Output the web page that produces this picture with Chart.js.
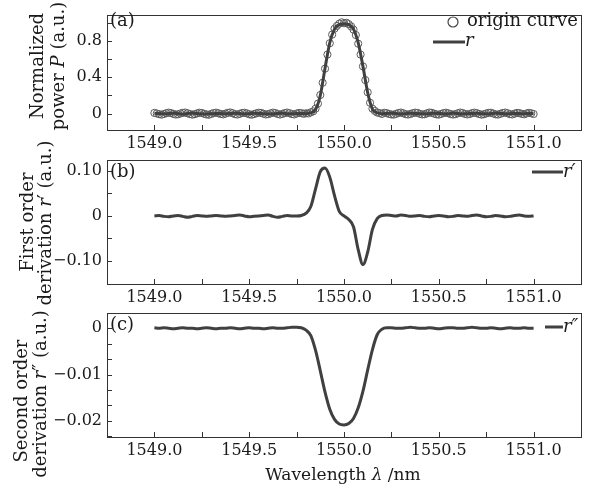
<!DOCTYPE html>
<html>
<head>
<meta charset="utf-8">
<script src="https://cdn.jsdelivr.net/npm/chart.js@4.4.1/dist/chart.umd.min.js"></script>
<style>
  html, body { margin: 0; padding: 0; background: #fff; }
  #wrap { position: relative; width: 596px; height: 487px; }
  #wrap canvas { position: absolute; left: 0; top: 0; }
</style>
</head>
<body>
<div id="wrap">
  <canvas id="cA" width="596" height="487"></canvas>
  <canvas id="cB" width="596" height="487"></canvas>
  <canvas id="cC" width="596" height="487"></canvas>
</div>
<script>
// wavelength (nm) of the curves
const wavelength = [
  1549.000, 1549.025, 1549.050, 1549.075, 1549.100, 1549.125, 1549.150, 1549.175, 1549.200, 1549.225,
  1549.250, 1549.275, 1549.300, 1549.325, 1549.350, 1549.375, 1549.400, 1549.425, 1549.450, 1549.475,
  1549.500, 1549.525, 1549.550, 1549.575, 1549.600, 1549.625, 1549.650, 1549.675, 1549.700, 1549.725,
  1549.750, 1549.775, 1549.800, 1549.825, 1549.850, 1549.875, 1549.900, 1549.925, 1549.950, 1549.975,
  1550.000, 1550.025, 1550.050, 1550.075, 1550.100, 1550.125, 1550.150, 1550.175, 1550.200, 1550.225,
  1550.250, 1550.275, 1550.300, 1550.325, 1550.350, 1550.375, 1550.400, 1550.425, 1550.450, 1550.475,
  1550.500, 1550.525, 1550.550, 1550.575, 1550.600, 1550.625, 1550.650, 1550.675, 1550.700, 1550.725,
  1550.750, 1550.775, 1550.800, 1550.825, 1550.850, 1550.875, 1550.900, 1550.925, 1550.950, 1550.975,
  1551.000
];

// wavelength (nm) of the measured points
const originWavelength = [
  1549.0000, 1549.0125, 1549.0250, 1549.0375, 1549.0500, 1549.0625, 1549.0750, 1549.0875,
  1549.1000, 1549.1125, 1549.1250, 1549.1375, 1549.1500, 1549.1625, 1549.1750, 1549.1875,
  1549.2000, 1549.2125, 1549.2250, 1549.2375, 1549.2500, 1549.2625, 1549.2750, 1549.2875,
  1549.3000, 1549.3125, 1549.3250, 1549.3375, 1549.3500, 1549.3625, 1549.3750, 1549.3875,
  1549.4000, 1549.4125, 1549.4250, 1549.4375, 1549.4500, 1549.4625, 1549.4750, 1549.4875,
  1549.5000, 1549.5125, 1549.5250, 1549.5375, 1549.5500, 1549.5625, 1549.5750, 1549.5875,
  1549.6000, 1549.6125, 1549.6250, 1549.6375, 1549.6500, 1549.6625, 1549.6750, 1549.6875,
  1549.7000, 1549.7125, 1549.7250, 1549.7375, 1549.7500, 1549.7625, 1549.7750, 1549.7875,
  1549.8000, 1549.8125, 1549.8250, 1549.8375, 1549.8500, 1549.8625, 1549.8750, 1549.8875,
  1549.9000, 1549.9125, 1549.9250, 1549.9375, 1549.9500, 1549.9625, 1549.9750, 1549.9875,
  1550.0000, 1550.0125, 1550.0250, 1550.0375, 1550.0500, 1550.0625, 1550.0750, 1550.0875,
  1550.1000, 1550.1125, 1550.1250, 1550.1375, 1550.1500, 1550.1625, 1550.1750, 1550.1875,
  1550.2000, 1550.2125, 1550.2250, 1550.2375, 1550.2500, 1550.2625, 1550.2750, 1550.2875,
  1550.3000, 1550.3125, 1550.3250, 1550.3375, 1550.3500, 1550.3625, 1550.3750, 1550.3875,
  1550.4000, 1550.4125, 1550.4250, 1550.4375, 1550.4500, 1550.4625, 1550.4750, 1550.4875,
  1550.5000, 1550.5125, 1550.5250, 1550.5375, 1550.5500, 1550.5625, 1550.5750, 1550.5875,
  1550.6000, 1550.6125, 1550.6250, 1550.6375, 1550.6500, 1550.6625, 1550.6750, 1550.6875,
  1550.7000, 1550.7125, 1550.7250, 1550.7375, 1550.7500, 1550.7625, 1550.7750, 1550.7875,
  1550.8000, 1550.8125, 1550.8250, 1550.8375, 1550.8500, 1550.8625, 1550.8750, 1550.8875,
  1550.9000, 1550.9125, 1550.9250, 1550.9375, 1550.9500, 1550.9625, 1550.9750, 1550.9875,
  1551.0000
];

// (a) measured points (origin curve)
const originCurve = [
  0.008, 0.002, -0.006, -0.011, -0.004, 0.005, 0.011, 0.006, -0.003, -0.010,
  -0.007, 0.002, 0.009, 0.012, 0.004, -0.005, -0.011, -0.006, 0.003, 0.010,
  0.007, -0.002, -0.009, -0.012, -0.003, 0.006, 0.011, 0.004, -0.004, -0.008,
  0.000, 0.009, 0.013, 0.005, -0.006, -0.010, -0.002, 0.007, 0.010, 0.003,
  -0.007, -0.012, -0.005, 0.004, 0.010, 0.008, -0.001, -0.009, -0.006, 0.003,
  0.011, 0.007, -0.004, -0.010, -0.003, 0.006, 0.012, 0.005, -0.005, -0.009,
  0.001, 0.008, 0.006, -0.002,
  0.004, 0.002, 0.015, 0.025, 0.055, 0.110, 0.205, 0.340, 0.495, 0.650,
  0.775, 0.870, 0.935, 0.965, 0.990, 1.005, 0.995, 1.000, 0.985, 0.960,
  0.925, 0.865, 0.770, 0.650, 0.520, 0.370, 0.235, 0.120, 0.055, 0.030,
  0.012, 0.006, -0.003,
  0.010, 0.006, -0.003, -0.009, -0.011, -0.002, 0.007, 0.012, 0.004, -0.006,
  -0.010, -0.004, 0.005, 0.011, 0.008, -0.002, -0.009, -0.007, 0.003, 0.012,
  0.009, 0.000, -0.008, -0.011, -0.003, 0.006, 0.010, 0.004, -0.005, -0.010,
  -0.006, 0.004, 0.012, 0.007, -0.003, -0.009, -0.004, 0.005, 0.011, 0.006,
  -0.004, -0.011, -0.007, 0.002, 0.009, 0.010, 0.001, -0.008, -0.010, -0.002,
  0.007, 0.012, 0.005, -0.006, -0.009, 0.000, 0.008, 0.006, -0.003, -0.007,
  0.002, 0.009, 0.004, -0.004
];

// (a) fitted r
const rCurve = [
  0.003, 0.001, -0.002, 0.002, 0.004, 0.000, -0.003, 0.001, 0.003, 0.002,
  -0.002, -0.004, 0.000, 0.002, 0.001, -0.001, 0.002, 0.004, 0.001, -0.002,
  -0.001, 0.003, 0.002, -0.001, -0.003, 0.000, 0.002, 0.003, 0.000, -0.002,
  0.001, 0.002,
  0.000, 0.010, 0.045, 0.200, 0.500, 0.780, 0.930, 0.980, 0.990, 0.980,
  0.930, 0.780, 0.520, 0.230, 0.050, 0.010, 0.000,
  0.002, 0.003, 0.001, -0.002, 0.000, 0.003, 0.002, -0.001, -0.002, 0.001,
  0.004, 0.002, -0.001, 0.000, 0.003, 0.001, -0.002, -0.001, 0.002, 0.003,
  0.000, -0.002, 0.001, 0.003, 0.002, -0.001, 0.000, 0.002, 0.001, -0.001,
  0.002, 0.000
];

// (b) first order derivation r'
const r1Curve = [
  0.000, 0.001, -0.001, -0.002, 0.000, 0.001, -0.001, -0.003, -0.001, 0.001,
  0.000, -0.001, 0.000, 0.001, 0.000, -0.001, 0.000, 0.001, 0.002, 0.000,
  -0.002, -0.001, 0.000, 0.001, 0.002, -0.001, -0.003, -0.001, 0.001, 0.000,
  0.000, 0.001, 0.006, 0.021, 0.060, 0.098, 0.106, 0.086, 0.045, 0.010,
  0.000, -0.008, -0.024, -0.075, -0.108, -0.080, -0.030, -0.006, 0.001, 0.002,
  0.001, 0.000, 0.002, 0.001, -0.001, 0.000, 0.001, -0.001, -0.002, 0.000,
  0.001, 0.000, -0.002, -0.001, 0.001, 0.000, -0.001, 0.001, 0.002, 0.000,
  -0.002, -0.001, 0.001, 0.000, -0.002, -0.001, 0.001, 0.002, 0.000, -0.001,
  0.000
];

// (c) second order derivation r''
const r2Curve = [
  0.0001, 0.0000, 0.0001, 0.0000, -0.0001, 0.0000, 0.0001, 0.0000, 0.0000, -0.0001,
  0.0000, 0.0001, 0.0000, -0.0001, 0.0000, 0.0000, 0.0001, 0.0000, -0.0001, 0.0000,
  0.0001, 0.0000, 0.0000, -0.0001, 0.0000, 0.0001, 0.0000, 0.0000, 0.0001, 0.0002,
  0.0002, 0.0001, -0.0004, -0.0016, -0.0048, -0.0092, -0.0138, -0.0175, -0.0197, -0.0207,
  -0.0209, -0.0206, -0.0195, -0.0172, -0.0136, -0.0090, -0.0046, -0.0014, -0.0002, 0.0001,
  0.0001, 0.0000, 0.0000, 0.0001, 0.0002, 0.0001, 0.0000, 0.0000, 0.0001, 0.0000,
  -0.0001, 0.0000, 0.0001, 0.0001, 0.0000, 0.0000, 0.0001, 0.0002, 0.0001, 0.0000,
  0.0000, 0.0001, 0.0000, -0.0001, 0.0000, 0.0001, 0.0000, 0.0000, 0.0001, 0.0000,
  0.0000
];

const xTickValues = [1549.0, 1549.5, 1550.0, 1550.5, 1551.0];
const yTicksA = [0, 0.4, 0.8];
const yTicksB = [-0.1, 0, 0.1];
const yTicksC = [-0.02, -0.01, 0];

const SERIF = '"DejaVu Serif", serif';
const TEXT = '#1a1a1a';
const CURVE = '#404040';
const FRAME = '#333';

const pts = (xs, ys) => xs.map((w, i) => ({x: w, y: ys[i]}));

function fmt(digits) {
    return v => {
        if (Math.abs(v) < 1e-9) return '0';
        return (v < 0 ? '\u2212' : '') + Math.abs(v).toFixed(digits);
    };
}

// draw text made of runs [text, italic]
function drawRuns(ctx, runs, x, y, size, center) {
    let w = 0;
    runs.forEach(r => {
        ctx.font = (r[1] ? 'italic ' : '') + size + 'px ' + SERIF;
        w += ctx.measureText(r[0]).width;
    });
    let cx = center ? x - w / 2 : x;
    ctx.textAlign = 'left';
    ctx.textBaseline = 'alphabetic';
    ctx.fillStyle = TEXT;
    runs.forEach(r => {
        ctx.font = (r[1] ? 'italic ' : '') + size + 'px ' + SERIF;
        ctx.fillText(r[0], cx, y);
        cx += ctx.measureText(r[0]).width;
    });
}

function framePlugin(cfg) {
    return {
        id: 'frame',
        afterDraw(chart) {
            const ctx = chart.ctx;
            const a = chart.chartArea;
            const sx = chart.scales.x, sy = chart.scales.y;
            ctx.save();

            // box
            ctx.strokeStyle = FRAME;
            ctx.lineWidth = 1;
            ctx.strokeRect(Math.round(a.left) + 0.5, Math.round(a.top) + 0.5,
                Math.round(a.right - a.left), Math.round(a.bottom - a.top));

            // inward ticks, bottom and left
            ctx.beginPath();
            for (let v = 1549.0; v <= 1551.001; v += 0.25) {
                const px = Math.round(sx.getPixelForValue(v)) + 0.5;
                ctx.moveTo(px, a.bottom);
                ctx.lineTo(px, a.bottom - 5);
            }
            const n0 = Math.ceil(sy.min / cfg.yMinor - 1e-6);
            const n1 = Math.floor(sy.max / cfg.yMinor + 1e-6);
            for (let k = n0; k <= n1; k++) {
                const py = Math.round(sy.getPixelForValue(k * cfg.yMinor)) + 0.5;
                ctx.moveTo(a.left, py);
                ctx.lineTo(a.left + 5, py);
            }
            ctx.stroke();

            // panel label
            drawRuns(ctx, [[cfg.label]], a.left + 3, cfg.labelY, 18, false);

            // y titles (rotated)
            cfg.titles.forEach(t => {
                ctx.save();
                ctx.translate(t.x, t.cy);
                ctx.rotate(-Math.PI / 2);
                drawRuns(ctx, t.runs, 0, 0, 18, true);
                ctx.restore();
            });

            // legend
            cfg.legend.forEach(l => {
                if (l.circle) {
                    ctx.beginPath();
                    ctx.strokeStyle = '#444';
                    ctx.lineWidth = 1.2;
                    ctx.arc(l.x, l.y, 5, 0, Math.PI * 2);
                    ctx.stroke();
                } else {
                    ctx.beginPath();
                    ctx.strokeStyle = CURVE;
                    ctx.lineWidth = 3;
                    ctx.moveTo(l.x1, l.y);
                    ctx.lineTo(l.x2, l.y);
                    ctx.stroke();
                }
                drawRuns(ctx, l.runs, l.tx, l.ty, 18, false);
            });

            if (cfg.xTitle) {
                drawRuns(ctx, cfg.xTitle, 343, 480, 17, true);
            }
            ctx.restore();
        }
    };
}

function makeOptions(padTop, padBottom, yMin, yMax, yTicks, digits) {
    const tickFont = {family: SERIF, size: 16};
    return {
        responsive: false,
        animation: false,
        devicePixelRatio: 1,
        layout: {padding: {left: 0, right: 15, top: padTop, bottom: padBottom}},
        plugins: {legend: {display: false}, tooltip: {enabled: false}},
        scales: {
            x: {
                type: 'linear',
                min: 1548.75,
                max: 1551.25,
                afterFit: s => { s.height = 30; },
                afterBuildTicks: s => { s.ticks = xTickValues.map(v => ({value: v})); },
                grid: {display: false, drawTicks: false},
                border: {display: false},
                ticks: {font: tickFont, color: TEXT, padding: 4, maxRotation: 0, autoSkip: false,
                        callback: v => v.toFixed(1)}
            },
            y: {
                type: 'linear',
                min: yMin,
                max: yMax,
                afterFit: s => { s.width = 107; },
                afterBuildTicks: s => { s.ticks = yTicks.map(v => ({value: v})); },
                grid: {display: false, drawTicks: false},
                border: {display: false},
                ticks: {font: tickFont, color: TEXT, padding: 5, autoSkip: false, callback: fmt(digits)}
            }
        }
    };
}

const lineStyle = {borderColor: CURVE, borderWidth: 3, pointRadius: 0,
                   cubicInterpolationMode: 'monotone', fill: false};

// (a)
new Chart(document.getElementById('cA'), {
    type: 'line',
    data: {
        datasets: [
            {label: 'r', data: pts(wavelength, rCurve), order: 0, ...lineStyle},
            {label: 'origin curve', data: pts(originWavelength, originCurve), order: 1, showLine: false,
             pointRadius: 3.6, pointStyle: 'circle', pointBorderColor: '#5a5a5a',
             pointBackgroundColor: 'rgba(255,255,255,0)', pointBorderWidth: 1}
        ]
    },
    options: makeOptions(7, 327, -0.18, 1.09, yTicksA, 1),
    plugins: [framePlugin({
        label: '(a)', labelY: 26, yMinor: 0.2,
        titles: [
            {x: 43, cy: 66, runs: [['Normalized']]},
            {x: 64, cy: 66, runs: [['power '], ['P', true], [' (a.u.)']]}
        ],
        legend: [
            {circle: true, x: 453, y: 22, runs: [['origin curve']], tx: 467, ty: 26},
            {x1: 433, x2: 465, y: 42, runs: [['r', true]], tx: 465, ty: 46}
        ]
    })]
});

// (b)
new Chart(document.getElementById('cB'), {
    type: 'line',
    data: {datasets: [{label: "r'", data: pts(wavelength, r1Curve), ...lineStyle}]},
    options: makeOptions(160, 173, -0.151, 0.124, yTicksB, 2),
    plugins: [framePlugin({
        label: '(b)', labelY: 177, yMinor: 0.05,
        titles: [
            {x: 33, cy: 222, runs: [['First order']]},
            {x: 51, cy: 223, runs: [['derivation '], ['r', true], ['\u2032 (a.u.)']]}
        ],
        legend: [
            {x1: 532, x2: 563, y: 172, runs: [['r\u2032', true]], tx: 563, ty: 177}
        ]
    })]
});

// (c)
new Chart(document.getElementById('cC'), {
    type: 'line',
    data: {datasets: [{label: "r''", data: pts(wavelength, r2Curve), ...lineStyle}]},
    options: makeOptions(313, 20, -0.0235, 0.0033, yTicksC, 2),
    plugins: [framePlugin({
        label: '(c)', labelY: 330, yMinor: 0.01 / 3,
        titles: [
            {x: 27, cy: 401, runs: [['Second order']]},
            {x: 46, cy: 394, runs: [['derivation '], ['r', true], ['\u2033 (a.u.)']]}
        ],
        legend: [
            {x1: 545, x2: 563, y: 327, runs: [['r\u2033', true]], tx: 563, ty: 332}
        ],
        xTitle: [['Wavelength '], ['\u03bb', true], [' /nm']]
    })]
});
</script>
</body>
</html>
